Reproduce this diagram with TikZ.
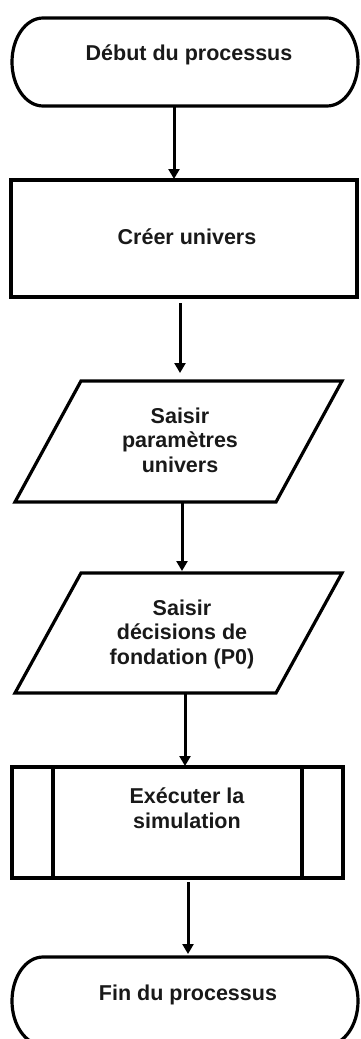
\documentclass[tikz,border=0pt]{standalone}
\usepackage{fontspec}
\setmainfont{Liberation Sans}
\usetikzlibrary{arrows.meta}
\begin{document}
\begin{tikzpicture}[x=1pt,y=-1pt,
  shp/.style={line width=3.2pt, line join=miter},
  box/.style={inner sep=0pt, outer sep=0pt, draw=none},
  lbl/.style={font=\bfseries\fontsize{21.5}{24.5}\selectfont, align=center, inner sep=0pt, text=black!90},
  arr/.style={line width=3pt, -{Triangle[width=11pt,length=10pt]}}]
\useasboundingbox (0,0) rectangle (361,1039);
% shape anchors
\node[box, minimum width=346pt, minimum height=88pt] (s1) at (185,62) {};
\node[box, minimum width=346pt, minimum height=117pt] (s2) at (184,238.5) {};
\node[box, minimum width=327pt, minimum height=121pt] (s3) at (178.5,441.5) {};
\node[box, minimum width=327pt, minimum height=120pt] (s4) at (178.5,633) {};
\node[box, minimum width=331pt, minimum height=111pt] (s5) at (177.5,822.5) {};
\node[box, minimum width=346pt, minimum height=88pt] (s6) at (185,1001) {};
% outlines
\draw[shp] (43,18) -- (327,18) .. controls (344.1,18) and (358,37.7) .. (358,62)
  .. controls (358,86.3) and (344.1,106) .. (327,106) -- (43,106)
  .. controls (25.9,106) and (12,86.3) .. (12,62) .. controls (12,37.7) and (25.9,18) .. cycle;
\draw[shp] (11,180) rectangle (357,297);
\draw[shp] (81,381) -- (342,381) -- (276,502) -- (15,502) -- cycle;
\draw[shp] (81,573) -- (342,573) -- (276,693) -- (15,693) -- cycle;
\draw[shp] (12,767) rectangle (343,878);
\draw[shp] (53,767) -- (53,878) (302,767) -- (302,878);
\draw[shp] (43,957) -- (327,957) .. controls (344.1,957) and (358,976.7) .. (358,1001)
  .. controls (358,1025.3) and (344.1,1045) .. (327,1045) -- (43,1045)
  .. controls (25.9,1045) and (12,1025.3) .. (12,1001) .. controls (12,976.7) and (25.9,957) .. cycle;
% labels
\node[lbl] (t1) at (189,55) {Début du processus};
\node[lbl] (t2) at (187,237) {Créer univers};
\node[lbl] (t3) at (180,440) {Saisir\\paramètres\\univers};
\node[lbl] (t4) at (182,634) {Saisir\\décisions de\\fondation (P0)};
\node[lbl] (t5) at (187,808) {Exécuter la\\simulation};
\node[lbl] (t6) at (188,995) {Fin du processus};
% connectors
\draw[arr] ([xshift=-11pt]s1.south) -- ([xshift=-10pt,yshift=1pt]s2.north);
\draw[arr] ([xshift=-4pt,yshift=-6pt]s2.south) -- ([xshift=1.5pt,yshift=8pt]s3.north);
\draw[arr] ([xshift=3.5pt]s3.south) -- ([xshift=3.5pt,yshift=2pt]s4.north);
\draw[arr] ([xshift=6.5pt]s4.south) -- ([xshift=7.5pt,yshift=1pt]s5.north);
\draw[arr] ([xshift=10.5pt,yshift=-4pt]s5.south) -- ([xshift=3pt,yshift=3pt]s6.north);
\end{tikzpicture}
\end{document}
